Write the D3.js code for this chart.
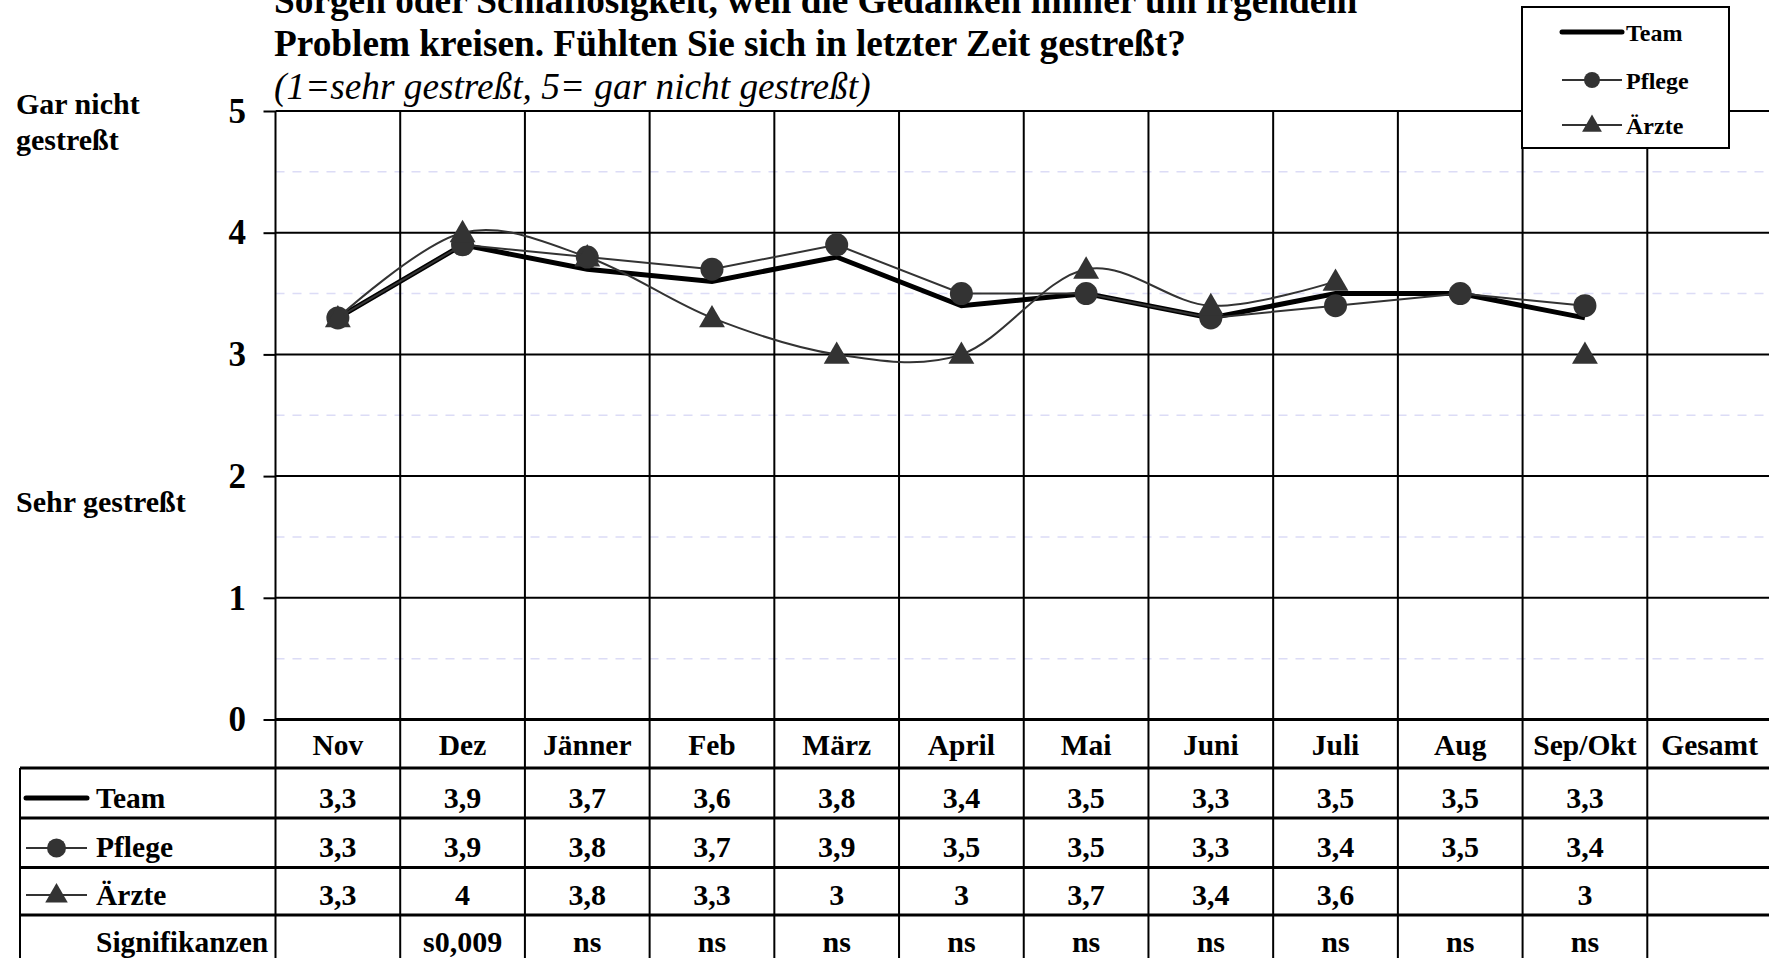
<!DOCTYPE html>
<html>
<head>
<meta charset="utf-8">
<script src="https://cdn.jsdelivr.net/npm/d3@7"></script>
<style>
  body { margin: 0; background: #fff; }
  svg { display: block; font-family: "Liberation Serif", "Times New Roman", serif; }
</style>
</head>
<body>
<div id="chart"></div>
<script>
const months = ["Nov", "Dez", "Jänner", "Feb", "März", "April", "Mai", "Juni", "Juli", "Aug", "Sep/Okt", "Gesamt"];
const team = [3.3, 3.9, 3.7, 3.6, 3.8, 3.4, 3.5, 3.3, 3.5, 3.5, 3.3, null];
const pflege = [3.3, 3.9, 3.8, 3.7, 3.9, 3.5, 3.5, 3.3, 3.4, 3.5, 3.4, null];
const aerzte = [3.3, 4, 3.8, 3.3, 3, 3, 3.7, 3.4, 3.6, null, 3, null];
const signif = [null, "s0,009", "ns", "ns", "ns", "ns", "ns", "ns", "ns", "ns", "ns", null];
const seriesNames = ["Team", "Pflege", "Ärzte"];
const yTicks = [0, 1, 2, 3, 4, 5];

const width = 1769, height = 958;
const svg = d3.select("#chart").append("svg").attr("width", width).attr("height", height);

const x = d3.scaleBand().domain(months).range([275.5, 1772]).padding(0);
const y = d3.scaleLinear().domain([0, 5]).range([719.5, 111]);
const cx = m => x(m) + x.bandwidth() / 2;
const dark = "#333";

// title
svg.append("text").attr("x", 274).attr("y", 13).attr("font-size", 37.3).attr("font-weight", "bold")
  .text("Sorgen oder Schlaflosigkeit, weil die Gedanken immer um irgendein");
svg.append("text").attr("x", 274).attr("y", 56).attr("font-size", 37.3).attr("font-weight", "bold")
  .text("Problem kreisen. Fühlten Sie sich in letzter Zeit gestreßt?");
svg.append("text").attr("x", 274).attr("y", 99).attr("font-size", 37.3).attr("font-style", "italic")
  .text("(1=sehr gestreßt, 5= gar nicht gestreßt)");

// side labels
svg.append("text").attr("x", 16).attr("y", 114).attr("font-size", 30).attr("font-weight", "bold").text("Gar nicht");
svg.append("text").attr("x", 16).attr("y", 150).attr("font-size", 30).attr("font-weight", "bold").text("gestreßt");
svg.append("text").attr("x", 16).attr("y", 512).attr("font-size", 30).attr("font-weight", "bold").text("Sehr gestreßt");

// minor dashed lines
const halves = d3.range(0.5, 5, 1);
svg.append("g").selectAll("line").data(halves).join("line")
  .attr("x1", 275.5).attr("x2", width).attr("y1", d => y(d)).attr("y2", d => y(d))
  .attr("stroke", "#dcdcf6").attr("stroke-width", 1.5).attr("stroke-dasharray", "9,8");

// vertical grid through chart and table
const bounds = months.map(m => x(m)).concat([x.range()[1]]);
svg.append("g").selectAll("line").data(bounds).join("line")
  .attr("x1", d => d).attr("x2", d => d).attr("y1", y(5)).attr("y2", height)
  .attr("stroke", "#000").attr("stroke-width", 2);

// y axis with gridlines
const yAxis = d3.axisLeft(y).tickValues(yTicks).tickSize(12).tickPadding(17.5).tickFormat(d3.format("d"));
const ya = svg.append("g").attr("transform", "translate(275.5,0)").call(yAxis);
ya.select(".domain").remove();
ya.selectAll(".tick line").attr("stroke-width", 2).attr("stroke", "#000");
ya.selectAll(".tick text").attr("font-size", 35).attr("font-weight", "bold")
  .attr("font-family", "Liberation Serif, Times New Roman, serif").attr("fill", "#000");
svg.append("g").selectAll("line").data(yTicks).join("line")
  .attr("x1", 275.5).attr("x2", width).attr("y1", d => y(d)).attr("y2", d => y(d))
  .attr("stroke", "#000").attr("stroke-width", d => d === 0 ? 3 : 2);

// series
const lineStraight = d3.line().defined(d => d.v != null).x(d => cx(d.m)).y(d => y(d.v));
const lineSmooth = d3.line().defined(d => d.v != null).x(d => cx(d.m)).y(d => y(d.v)).curve(d3.curveCardinal.tension(0));
const toPts = arr => months.map((m, i) => ({ m: m, v: arr[i] }));

svg.append("path").datum(toPts(team)).attr("d", lineStraight)
  .attr("fill", "none").attr("stroke", "#000").attr("stroke-width", 5).attr("stroke-linejoin", "miter");

svg.append("path").datum(toPts(pflege)).attr("d", lineStraight)
  .attr("fill", "none").attr("stroke", dark).attr("stroke-width", 2);
svg.append("g").selectAll("circle").data(toPts(pflege).filter(d => d.v != null)).join("circle")
  .attr("cx", d => cx(d.m)).attr("cy", d => y(d.v)).attr("r", 11.5).attr("fill", dark);

svg.append("path").datum(toPts(aerzte)).attr("d", lineSmooth)
  .attr("fill", "none").attr("stroke", dark).attr("stroke-width", 2);
const tri = d3.symbol().type(d3.symbolTriangle).size(290);
svg.append("g").selectAll("path").data(toPts(aerzte).filter(d => d.v != null)).join("path")
  .attr("transform", d => `translate(${cx(d.m)},${y(d.v) + 2})`).attr("d", tri).attr("fill", dark);

// legend
const lg = svg.append("g");
lg.append("rect").attr("x", 1522).attr("y", 7).attr("width", 207).attr("height", 141)
  .attr("fill", "#fff").attr("stroke", "#000").attr("stroke-width", 2);
const legY = [32, 80, 125];
seriesNames.forEach((name, i) => {
  lg.append("line").attr("x1", 1562).attr("x2", 1622).attr("y1", legY[i]).attr("y2", legY[i])
    .attr("stroke", i === 0 ? "#000" : dark).attr("stroke-width", i === 0 ? 5 : 2).attr("stroke-linecap", i === 0 ? "round" : "butt");
  if (i === 1) lg.append("circle").attr("cx", 1592).attr("cy", legY[i]).attr("r", 8).attr("fill", dark);
  if (i === 2) lg.append("path").attr("transform", `translate(1592,${legY[i] + 1})`).attr("d", d3.symbol().type(d3.symbolTriangle).size(170)).attr("fill", dark);
  lg.append("text").attr("x", 1626).attr("y", legY[i] + 9).attr("font-size", 24).attr("font-weight", "bold").text(name);
});

// data table
const rowTops = [768, 818, 867.5, 915];
const tbl = svg.append("g");
tbl.selectAll("line.h").data(rowTops).join("line").attr("class", "h")
  .attr("x1", 20).attr("x2", width).attr("y1", d => d).attr("y2", d => d)
  .attr("stroke", "#000").attr("stroke-width", 3);
tbl.append("line").attr("x1", 20).attr("x2", 20).attr("y1", rowTops[0]).attr("y2", height)
  .attr("stroke", "#000").attr("stroke-width", 2);

tbl.selectAll("text.cat").data(months).join("text").attr("class", "cat")
  .attr("x", d => cx(d)).attr("y", 755).attr("text-anchor", "middle")
  .attr("font-size", 29.5).attr("font-weight", "bold").text(d => d);

const fmt = v => v == null ? "" : String(v).replace(".", ",");
const tableRows = [team.map(fmt), pflege.map(fmt), aerzte.map(fmt), signif.map(v => v || "")];
const rowBase = [808, 857, 905, 952];
tableRows.forEach((row, r) => {
  tbl.append("g").selectAll("text").data(row).join("text")
    .attr("x", (d, i) => cx(months[i])).attr("y", rowBase[r]).attr("text-anchor", "middle")
    .attr("font-size", 30).attr("font-weight", "bold").text(d => d);
});

// row keys
const keyY = [798, 848, 895];
seriesNames.forEach((name, i) => {
  tbl.append("line").attr("x1", 26).attr("x2", 87).attr("y1", keyY[i]).attr("y2", keyY[i])
    .attr("stroke", i === 0 ? "#000" : dark).attr("stroke-width", i === 0 ? 5 : 2).attr("stroke-linecap", i === 0 ? "round" : "butt");
  if (i === 1) tbl.append("circle").attr("cx", 56.5).attr("cy", keyY[i]).attr("r", 9.5).attr("fill", dark);
  if (i === 2) tbl.append("path").attr("transform", `translate(56.5,${keyY[i] + 1})`).attr("d", d3.symbol().type(d3.symbolTriangle).size(220)).attr("fill", dark);
  tbl.append("text").attr("x", 96).attr("y", rowBase[i]).attr("font-size", 29.5).attr("font-weight", "bold").text(name);
});
tbl.append("text").attr("x", 96).attr("y", rowBase[3]).attr("font-size", 29.5).attr("font-weight", "bold").text("Signifikanzen");
</script>
</body>
</html>
